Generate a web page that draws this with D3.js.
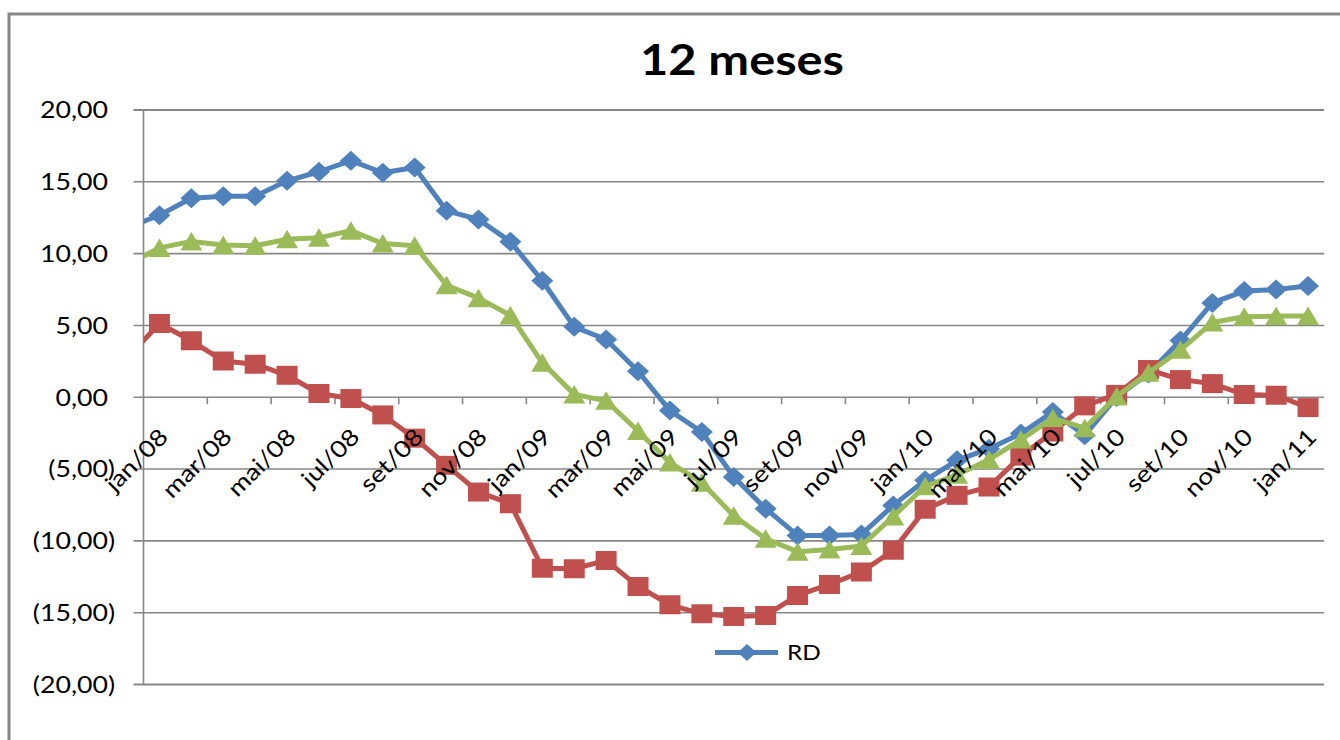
<!DOCTYPE html>
<html>
<head>
<meta charset="utf-8">
<script src="https://cdn.jsdelivr.net/npm/d3@7"></script>
<style>
  body { margin: 0; background: #fff; }
  svg text { font-family: Lato, "Open Sans", sans-serif; }
</style>
</head>
<body>
<div id="chart"></div>
<script>
// months from dez/07 (first point sits just left of the plot and is clipped)
var months = ["dez/07",
  "jan/08","fev/08","mar/08","abr/08","mai/08","jun/08","jul/08","ago/08","set/08","out/08","nov/08","dez/08",
  "jan/09","fev/09","mar/09","abr/09","mai/09","jun/09","jul/09","ago/09","set/09","out/09","nov/09","dez/09",
  "jan/10","fev/10","mar/10","abr/10","mai/10","jun/10","jul/10","ago/10","set/10","out/10","nov/10","dez/10",
  "jan/11"];

var rd = [11.8,
  12.68, 13.85, 14.0, 14.0, 15.07, 15.7, 16.47, 15.63, 16.0, 12.98, 12.38, 10.83,
  8.11, 4.9, 4.02, 1.81, -0.93, -2.42, -5.55, -7.76, -9.62, -9.62, -9.55, -7.53,
  -5.78, -4.39, -3.58, -2.53, -1.02, -2.65, 0.02, 1.65, 3.95, 6.57, 7.39, 7.5,
  7.74];

var serieVermelha = [2.75,
  5.13, 3.93, 2.53, 2.3, 1.53, 0.26, -0.09, -1.23, -2.85, -4.74, -6.6, -7.41,
  -11.9, -11.94, -11.36, -13.17, -14.45, -15.08, -15.26, -15.19, -13.8, -13.03, -12.17, -10.66,
  -7.8, -6.83, -6.25, -4.1, -2.42, -0.6, 0.2, 1.93, 1.23, 0.95, 0.19, 0.14,
  -0.72];

var serieVerde = [9.25,
  10.4, 10.85, 10.6, 10.55, 11.0, 11.1, 11.6, 10.7, 10.55, 7.8, 6.9, 5.7,
  2.4, 0.2, -0.25, -2.35, -4.55, -5.95, -8.25, -9.85, -10.75, -10.6, -10.35, -8.3,
  -6.2, -5.4, -4.35, -2.95, -1.45, -2.15, 0.05, 1.7, 3.3, 5.2, 5.6, 5.65,
  5.65];

var yTicks = [20, 15, 10, 5, 0, -5, -10, -15, -20];

var width = 1340, height = 740;
var plotLeft = 143.5, plotRight = 1324, plotTop = 110, plotBottom = 684.5;
var stretch = 1.16;

var svg = d3.select("#chart").append("svg")
  .attr("width", width)
  .attr("height", height);

// index -1 = dez/07, 0 = jan/08 ... 36 = jan/11
var x = d3.scaleLinear().domain([-0.5, 36.5]).range([plotLeft, plotRight]);
var y = d3.scaleLinear().domain([-20, 20]).range([plotBottom, plotTop]);

// outer frame
svg.append("path")
  .attr("d", "M9," + height + "V14H" + width)
  .attr("fill", "none")
  .attr("stroke", "#878787")
  .attr("stroke-width", 3);

svg.append("text")
  .attr("transform", "translate(742,75) scale(" + stretch + ",1)")
  .attr("text-anchor", "middle")
  .attr("font-size", 42)
  .attr("font-weight", "bold")
  .text("12 meses");

// gridlines
svg.selectAll("line.grid").data(yTicks).enter()
  .append("line")
  .attr("class", "grid")
  .attr("x1", plotLeft - 10).attr("x2", plotRight)
  .attr("y1", function(d){ return y(d); })
  .attr("y2", function(d){ return y(d); })
  .attr("stroke", "#878787")
  .attr("stroke-width", function(d){ return (d == 20 || d == -20) ? 2.2 : 1.6; });

svg.append("line")
  .attr("x1", plotLeft).attr("x2", plotLeft)
  .attr("y1", plotTop).attr("y2", plotBottom)
  .attr("stroke", "#878787").attr("stroke-width", 1.6);

// tick marks on category axis (every 2 months, between categories)
svg.selectAll("line.xtick").data(d3.range(1.5, 36, 2)).enter()
  .append("line")
  .attr("class", "xtick")
  .attr("x1", function(d){ return x(d); })
  .attr("x2", function(d){ return x(d); })
  .attr("y1", y(0)).attr("y2", y(0) + 7)
  .attr("stroke", "#878787").attr("stroke-width", 1.6);

svg.selectAll("text.ylab").data(yTicks).enter()
  .append("text")
  .attr("class", "ylab")
  .attr("text-anchor", "end")
  .attr("font-size", 23)
  .attr("transform", function(d){
    return "translate(" + (d < 0 ? 115 : 108) + "," + (y(d) + 8.3) + ") scale(" + stretch + ",1)";
  })
  .text(function(d){
    var s = d3.format(".2f")(Math.abs(d)).replace(".", ",");
    return d < 0 ? "(" + s + ")" : s;
  });

// series
svg.append("clipPath").attr("id", "plot")
  .append("rect")
  .attr("x", plotLeft).attr("y", plotTop - 20)
  .attr("width", plotRight - plotLeft).attr("height", plotBottom - plotTop + 40);

var series = [
  {name: "RD", values: rd, color: "#4F81BD", shape: "diamond"},
  {name: "v", values: serieVermelha, color: "#C0504D", shape: "square"},
  {name: "g", values: serieVerde, color: "#9BBB59", shape: "triangle"}
];

var shapes = {
  diamond: "M0,-10L11,0L0,10L-11,0Z",
  square: "M-10.5,-9.5H10.5V9.5H-10.5Z",
  triangle: "M0,-9.5L11,9L-11,9Z"
};

var line = d3.line()
  .x(function(d, i){ return x(i - 1); })
  .y(function(d){ return y(d); });

var g = svg.append("g").attr("clip-path", "url(#plot)");

series.forEach(function(s){
  g.append("path")
    .datum(s.values)
    .attr("d", line)
    .attr("fill", "none")
    .attr("stroke", s.color)
    .attr("stroke-width", 5)
    .attr("stroke-linejoin", "round");
  g.selectAll(null).data(s.values).enter()
    .append("path")
    .attr("d", shapes[s.shape])
    .attr("transform", function(d, i){ return "translate(" + x(i - 1) + "," + y(d) + ")"; })
    .attr("fill", s.color);
});

// category labels on top of lines
var labelIdx = d3.range(0, 37, 2);
svg.selectAll("text.xlab").data(labelIdx).enter()
  .append("text")
  .attr("class", "xlab")
  .attr("text-anchor", "end")
  .attr("font-size", 23)
  .attr("transform", function(d){
    return "translate(" + (x(d) + 10) + "," + (y(0) + 41) + ") rotate(-45) scale(" + stretch + ",1)";
  })
  .text(function(d){ return months[d + 1]; });

// legend (only RD shows)
var lg = svg.append("g").attr("transform", "translate(715,652.5)");
lg.append("line").attr("x1", 0).attr("x2", 63)
  .attr("stroke", "#4F81BD").attr("stroke-width", 5);
lg.append("path").attr("d", shapes.diamond)
  .attr("transform", "translate(32,0) scale(0.85)")
  .attr("fill", "#4F81BD");
lg.append("text")
  .attr("transform", "translate(72,7.5) scale(" + stretch + ",1)")
  .attr("font-size", 21)
  .text("RD");
</script>
</body>
</html>
